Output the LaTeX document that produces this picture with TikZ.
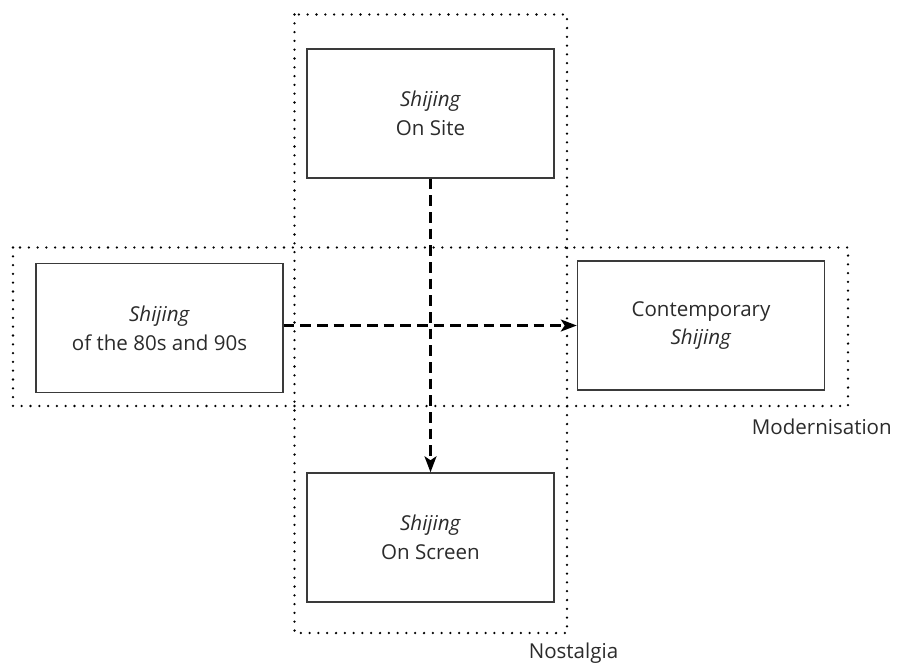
\documentclass[tikz,border=0pt]{standalone}
\usepackage{fontspec}
\setmainfont{Open Sans}
\usetikzlibrary{arrows.meta}
\definecolor{ink}{HTML}{2B2B2B}
\definecolor{boxline}{HTML}{3A3A3A}
\tikzset{
  card/.style={draw=boxline, line width=1.1pt, minimum width=185.25pt, minimum height=96.75pt,
    align=center, font=\fontsize{15.4}{21.5}\selectfont, text=ink, inner sep=0pt},
  region/.style={draw=black, line width=1.9pt, line cap=round, dash pattern=on 0pt off 6.6pt},
  flow/.style={draw=black, line width=1.8pt, dash pattern=on 8pt off 4.5pt,
    -{Stealth[length=12pt,width=9pt,inset=3pt]}},
  caption/.style={font=\fontsize{15.4}{18}\selectfont, text=ink, inner sep=0pt}
}
\begin{document}
\begin{tikzpicture}[x=0.75pt,y=-0.75pt]
  \useasboundingbox (0,0) rectangle (898,665);
  % grouping frames
  \draw[region] (294.5,14.5) rectangle (567,633);
  \draw[region] (13,247.5) rectangle (848,406);
  % the four stages
  \node[card] (site)   at (430.5,113.5) {\textit{Shijing}\\On Site};
  \node[card] (past)   at (159.5,328)   {\textit{Shijing}\\of the 80s and 90s};
  \node[card] (now)    at (701,325.5)   {Contemporary\\\textit{Shijing}};
  \node[card] (screen) at (430.5,537.5) {\textit{Shijing}\\On Screen};
  % group names
  \node[caption, anchor=east] (modern) at (892,427) {Modernisation};
  \node[caption] (nostalgia) at (573.5,653) {Nostalgia};
  % transitions
  \draw[flow] (past.east |- now.west) -- (now.west);
  \draw[flow] (site.south) -- (screen.north);
\end{tikzpicture}
\end{document}
